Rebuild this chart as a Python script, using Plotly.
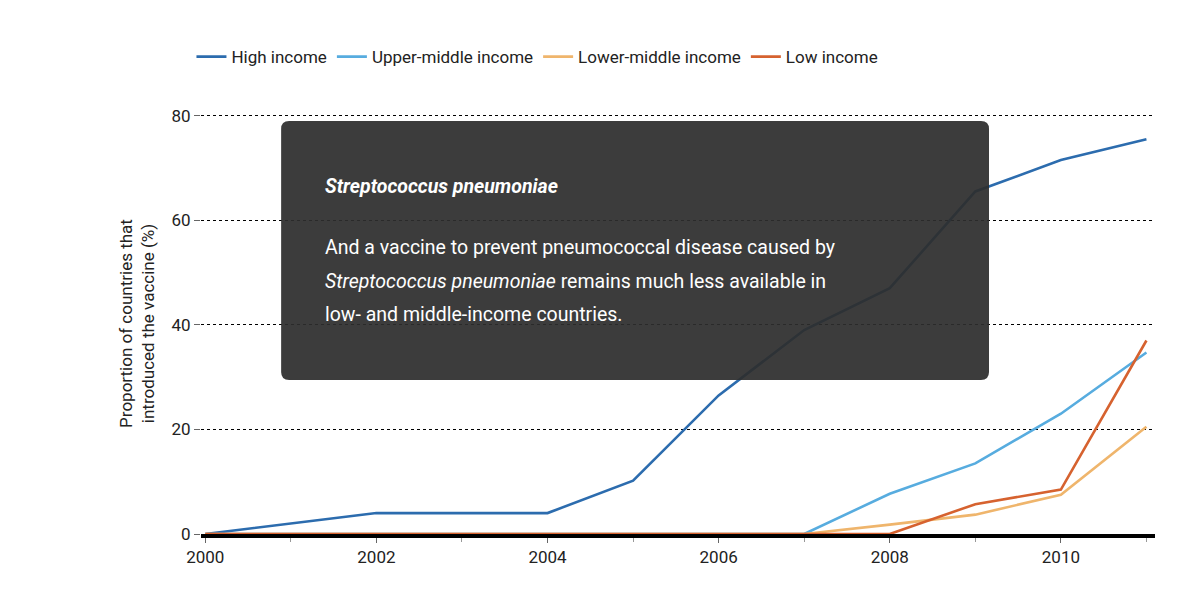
import plotly.graph_objects as go

years = [2000, 2001, 2002, 2003, 2004, 2005, 2006, 2007, 2008, 2009, 2010, 2011]
high_income = [0, 2, 4, 4, 4, 10.2, 26.5, 39, 47, 65.5, 71.5, 75.5]
upper_middle = [0, 0, 0, 0, 0, 0, 0, 0, 7.7, 13.5, 23, 34.7]
lower_middle = [0, 0, 0, 0, 0, 0, 0, 0, 1.8, 3.7, 7.5, 20.5]
low_income = [0, 0, 0, 0, 0, 0, 0, 0, 0, 5.7, 8.5, 37]

series = [
    ("High income", high_income, "#2c6cae"),
    ("Upper-middle income", upper_middle, "#57acdf"),
    ("Lower-middle income", lower_middle, "#efb56c"),
    ("Low income", low_income, "#d6622f"),
]

FONT = "Roboto"
fig = go.Figure()
for name, vals, col in series:
    fig.add_trace(go.Scatter(x=years, y=vals, name=name, mode="lines",
                             line=dict(color=col, width=2.6)))

fig.update_layout(
    width=1200, height=605,
    paper_bgcolor="white", plot_bgcolor="white",
    margin=dict(l=193, r=53, t=105, b=79),
    font=dict(family=FONT, size=17, color="#222"),
    showlegend=True,
    legend=dict(orientation="h", x=-0.01, y=1.09, xanchor="left", yanchor="bottom",
                font=dict(size=17), itemwidth=30, tracegroupgap=0),
    xaxis=dict(range=[1999.95, 2011.1], tickvals=[2000, 2002, 2004, 2006, 2008, 2010],
               showgrid=False, zeroline=False, showline=True, linecolor="black", linewidth=4,
               ticks="outside", ticklen=5, tickcolor="#666",
               minor=dict(tickvals=[2001, 2003, 2005, 2007, 2009, 2011], ticks="outside",
                          ticklen=4, tickcolor="#999")),
    yaxis=dict(range=[0, 80.5], tickvals=[0, 20, 40, 60, 80], showgrid=True,
               gridcolor="black", griddash="dot", gridwidth=1, zeroline=False,
               ticks="outside", ticklen=6, tickcolor="#666",
               title=dict(text="Proportion of countries that<br>introduced the vaccine (%)",
                          font=dict(size=17), standoff=12)),
)

# rounded dark overlay box
x0, x1, y0, y1 = 0.084, 0.826, 0.366, 0.981
rx, ry = 0.0084, 0.019
path = (f"M {x0+rx},{y0} L {x1-rx},{y0} Q {x1},{y0} {x1},{y0+ry} "
        f"L {x1},{y1-ry} Q {x1},{y1} {x1-rx},{y1} L {x0+rx},{y1} "
        f"Q {x0},{y1} {x0},{y1-ry} L {x0},{y0+ry} Q {x0},{y0} {x0+rx},{y0} Z")
fig.add_shape(type="path", path=path, xref="paper", yref="paper",
              fillcolor="rgba(45,45,45,0.93)", line=dict(width=0), layer="above")

lines = [
    ("<b><i>Streptococcus pneumoniae</i></b>", 178),
    ("And a vaccine to prevent pneumococcal disease caused by", 240),
    ("<i>Streptococcus pneumoniae</i> remains much less available in", 273),
    ("low- and middle-income countries.", 306),
]
for txt, py in lines:
    fig.add_annotation(text=txt, xref="paper", yref="paper",
                       x=(315 - 193) / 954, y=(526 - py) / 421,
                       xanchor="left", yanchor="middle", showarrow=False,
                       font=dict(family=FONT, size=19.5, color="white"))

fig.write_html("out.html")
